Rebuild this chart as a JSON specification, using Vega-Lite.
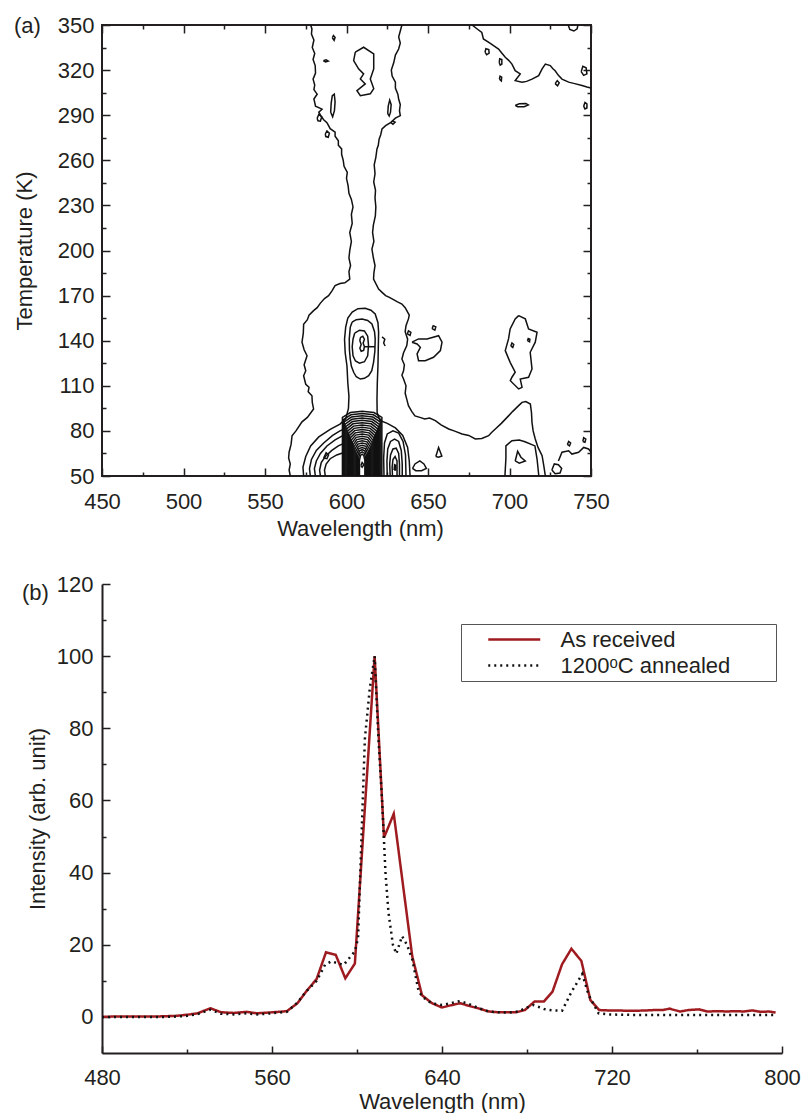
{
"$schema":"https://vega.github.io/schema/vega-lite/v6.json",
"background":"white",
"padding":{"left":12,"top":13,"right":5,"bottom":0},
"spacing":33,
"config":{
 "font":"Liberation Sans",
 "view":{"stroke":null},
 "axis":{"labelFont":"Liberation Sans","titleFont":"Liberation Sans","labelFontSize":22,"titleFontSize":22,"titleFontWeight":"normal","labelColor":"#231f20","titleColor":"#231f20","domainColor":"#231f20","tickColor":"#231f20","grid":false,"labelFlush":false},
 "title":{"font":"Liberation Sans","fontSize":22,"fontWeight":"normal","color":"#231f20"}
},
"resolve":{"scale":{"color":"independent","strokeDash":"independent"},"legend":{"color":"independent","strokeDash":"independent"}},
"datasets":{
 "ca":[{"wl":450,"T":50}],
 "cb":[{"wl":480,"I":0}],
 "contours":[
{"c":"C1L","wl":565.5,"T":50},{"c":"C1L","wl":564.8,"T":54},{"c":"C1L","wl":565.5,"T":58},{"c":"C1L","wl":564.5,"T":62},{"c":"C1L","wl":564.8,"T":66},{"c":"C1L","wl":566,"T":71},{"c":"C1L","wl":566.6,"T":76.8},{"c":"C1L","wl":569,"T":80},{"c":"C1L","wl":572.7,"T":86},{"c":"C1L","wl":576,"T":89},{"c":"C1L","wl":579.8,"T":94.6},{"c":"C1L","wl":579,"T":99},{"c":"C1L","wl":578.8,"T":103.4},{"c":"C1L","wl":576.5,"T":106},{"c":"C1L","wl":577,"T":109},{"c":"C1L","wl":575,"T":111},{"c":"C1L","wl":573.7,"T":116.7},{"c":"C1L","wl":575,"T":120},{"c":"C1L","wl":574,"T":124},{"c":"C1L","wl":575.8,"T":130},{"c":"C1L","wl":574,"T":134},{"c":"C1L","wl":572.7,"T":139},{"c":"C1L","wl":573.5,"T":145},{"c":"C1L","wl":573.7,"T":151},{"c":"C1L","wl":576,"T":154},{"c":"C1L","wl":577,"T":157},{"c":"C1L","wl":579.8,"T":160},{"c":"C1L","wl":582,"T":162},{"c":"C1L","wl":584,"T":165},{"c":"C1L","wl":586.5,"T":168},{"c":"C1L","wl":589,"T":170},{"c":"C1L","wl":591,"T":173},{"c":"C1L","wl":593,"T":176.6},{"c":"C1L","wl":596,"T":178},{"c":"C1L","wl":599,"T":178.5},{"c":"C1L","wl":602,"T":181},{"c":"C1L","wl":601.5,"T":186},{"c":"C1L","wl":602.5,"T":190},{"c":"C1L","wl":601.5,"T":195},{"c":"C1L","wl":602,"T":200},{"c":"C1L","wl":603,"T":206},{"c":"C1L","wl":602,"T":212},{"c":"C1L","wl":603.5,"T":218},{"c":"C1L","wl":603,"T":224},{"c":"C1L","wl":604,"T":229},{"c":"C1L","wl":603,"T":234},{"c":"C1L","wl":601.5,"T":238},{"c":"C1L","wl":601,"T":243},{"c":"C1L","wl":600,"T":248},{"c":"C1L","wl":600.5,"T":252},{"c":"C1L","wl":598.5,"T":256},{"c":"C1L","wl":598,"T":260},{"c":"C1L","wl":597,"T":264},{"c":"C1L","wl":597,"T":267.6},{"c":"C1L","wl":595,"T":270},{"c":"C1L","wl":595,"T":273},{"c":"C1L","wl":593,"T":276},{"c":"C1L","wl":593,"T":278.8},{"c":"C1L","wl":590,"T":281},{"c":"C1L","wl":588,"T":285},{"c":"C1L","wl":586,"T":287},{"c":"C1L","wl":584,"T":290},{"c":"C1L","wl":583,"T":292},{"c":"C1L","wl":585,"T":294},{"c":"C1L","wl":581,"T":296},{"c":"C1L","wl":580,"T":300.8},{"c":"C1L","wl":582,"T":304},{"c":"C1L","wl":580,"T":307},{"c":"C1L","wl":580.5,"T":310},{"c":"C1L","wl":579.5,"T":314},{"c":"C1L","wl":581,"T":318},{"c":"C1L","wl":580.8,"T":323},{"c":"C1L","wl":579.5,"T":327},{"c":"C1L","wl":580.5,"T":331},{"c":"C1L","wl":579,"T":335},{"c":"C1L","wl":580,"T":340},{"c":"C1L","wl":578.5,"T":344},{"c":"C1L","wl":578.8,"T":347.4},{"c":"C1L","wl":578,"T":350},
{"c":"C1R","wl":634,"T":350},{"c":"C1R","wl":633,"T":346},{"c":"C1R","wl":632,"T":342},{"c":"C1R","wl":633,"T":338},{"c":"C1R","wl":632,"T":334},{"c":"C1R","wl":630,"T":330},{"c":"C1R","wl":629,"T":325},{"c":"C1R","wl":627.5,"T":320},{"c":"C1R","wl":628,"T":316},{"c":"C1R","wl":630,"T":312},{"c":"C1R","wl":630,"T":308},{"c":"C1R","wl":631.5,"T":304},{"c":"C1R","wl":632,"T":300.8},{"c":"C1R","wl":633,"T":297},{"c":"C1R","wl":632.5,"T":293},{"c":"C1R","wl":633,"T":289.7},{"c":"C1R","wl":630,"T":288},{"c":"C1R","wl":627,"T":285},{"c":"C1R","wl":624,"T":283},{"c":"C1R","wl":621.8,"T":280.9},{"c":"C1R","wl":621,"T":277},{"c":"C1R","wl":620,"T":274},{"c":"C1R","wl":619.5,"T":270},{"c":"C1R","wl":618.7,"T":267.6},{"c":"C1R","wl":618,"T":262},{"c":"C1R","wl":617,"T":257},{"c":"C1R","wl":617.5,"T":251},{"c":"C1R","wl":616.7,"T":245.6},{"c":"C1R","wl":617.8,"T":240},{"c":"C1R","wl":617.5,"T":235},{"c":"C1R","wl":618,"T":229},{"c":"C1R","wl":617.7,"T":223},{"c":"C1R","wl":616.5,"T":217},{"c":"C1R","wl":616,"T":212},{"c":"C1R","wl":616.8,"T":206},{"c":"C1R","wl":615.6,"T":201},{"c":"C1R","wl":616.5,"T":195},{"c":"C1R","wl":617.5,"T":190},{"c":"C1R","wl":616.8,"T":185},{"c":"C1R","wl":616.6,"T":181},{"c":"C1R","wl":619.7,"T":174.4},{"c":"C1R","wl":622,"T":172},{"c":"C1R","wl":624,"T":170},{"c":"C1R","wl":626,"T":169},{"c":"C1R","wl":628,"T":167.8},{"c":"C1R","wl":631,"T":166},{"c":"C1R","wl":634,"T":164.4},{"c":"C1R","wl":636,"T":162},{"c":"C1R","wl":637,"T":160},{"c":"C1R","wl":638.5,"T":157},{"c":"C1R","wl":638,"T":154.5},{"c":"C1R","wl":636.5,"T":150},{"c":"C1R","wl":636,"T":146},{"c":"C1R","wl":637.5,"T":141},{"c":"C1R","wl":637,"T":136.7},{"c":"C1R","wl":635,"T":132},{"c":"C1R","wl":634,"T":127.8},{"c":"C1R","wl":635.5,"T":124},{"c":"C1R","wl":635,"T":120},{"c":"C1R","wl":634,"T":117},{"c":"C1R","wl":635,"T":114.5},{"c":"C1R","wl":636.5,"T":110},{"c":"C1R","wl":636,"T":105},{"c":"C1R","wl":637,"T":101},{"c":"C1R","wl":638,"T":96.8},{"c":"C1R","wl":640,"T":93},{"c":"C1R","wl":642,"T":90},{"c":"C1R","wl":645,"T":89},{"c":"C1R","wl":648,"T":88},{"c":"C1R","wl":651,"T":88.5},{"c":"C1R","wl":654.5,"T":86.8},{"c":"C1R","wl":658,"T":84},{"c":"C1R","wl":662.7,"T":81.3},{"c":"C1R","wl":666,"T":80},{"c":"C1R","wl":670.9,"T":78},{"c":"C1R","wl":675,"T":77},{"c":"C1R","wl":679,"T":74.6},{"c":"C1R","wl":683,"T":75},{"c":"C1R","wl":687.2,"T":76.8},{"c":"C1R","wl":689,"T":79},{"c":"C1R","wl":691.3,"T":81.3},{"c":"C1R","wl":695,"T":85},{"c":"C1R","wl":699.4,"T":90},{"c":"C1R","wl":702,"T":93},{"c":"C1R","wl":705.6,"T":96.8},{"c":"C1R","wl":707.7,"T":99},{"c":"C1R","wl":710,"T":99.5},{"c":"C1R","wl":712.8,"T":97.9},{"c":"C1R","wl":713.5,"T":92},{"c":"C1R","wl":713.8,"T":85.7},{"c":"C1R","wl":714.5,"T":80},{"c":"C1R","wl":715.8,"T":74.6},{"c":"C1R","wl":717.5,"T":69},{"c":"C1R","wl":720,"T":63.5},{"c":"C1R","wl":721,"T":57},{"c":"C1R","wl":722,"T":50},
{"c":"CTR","wl":677,"T":350},{"c":"CTR","wl":680,"T":347.5},{"c":"CTR","wl":683,"T":345},{"c":"CTR","wl":684,"T":340.7},{"c":"CTR","wl":688,"T":338},{"c":"CTR","wl":693.3,"T":334},{"c":"CTR","wl":695.5,"T":331},{"c":"CTR","wl":697.4,"T":328.5},{"c":"CTR","wl":699.5,"T":326.5},{"c":"CTR","wl":701.5,"T":324},{"c":"CTR","wl":703.5,"T":319.6},{"c":"CTR","wl":706.6,"T":317.5},{"c":"CTR","wl":703.5,"T":313},{"c":"CTR","wl":707.7,"T":312},{"c":"CTR","wl":710.5,"T":312.5},{"c":"CTR","wl":713.8,"T":314},{"c":"CTR","wl":717.9,"T":316.3},{"c":"CTR","wl":720,"T":320.8},{"c":"CTR","wl":722,"T":324},{"c":"CTR","wl":725,"T":323},{"c":"CTR","wl":726.5,"T":321},{"c":"CTR","wl":728,"T":319.6},{"c":"CTR","wl":730,"T":316.5},{"c":"CTR","wl":732.2,"T":314},{"c":"CTR","wl":736.3,"T":312},{"c":"CTR","wl":740,"T":311},{"c":"CTR","wl":744.5,"T":309.7},{"c":"CTR","wl":747.5,"T":308.7},{"c":"CTR","wl":750,"T":308},
{"c":"CTR2","wl":736,"T":350},{"c":"CTR2","wl":737,"T":347},{"c":"CTR2","wl":739.5,"T":346},{"c":"CTR2","wl":741.5,"T":347.5},{"c":"CTR2","wl":742,"T":350},
{"c":"I1","wl":605.4,"T":331.9},{"c":"I1","wl":610.5,"T":335.2},{"c":"I1","wl":616.7,"T":330.8},{"c":"I1","wl":616.7,"T":320.8},{"c":"I1","wl":614.6,"T":314.1},{"c":"I1","wl":616.7,"T":307.7},{"c":"I1","wl":614.6,"T":304.2},{"c":"I1","wl":608.5,"T":303},{"c":"I1","wl":606.4,"T":306.4},{"c":"I1","wl":611.5,"T":310.8},{"c":"I1","wl":608.5,"T":314.1},{"c":"I1","wl":610.5,"T":317.5},{"c":"I1","wl":607.4,"T":320.8},{"c":"I1","wl":604.4,"T":326.3},{"c":"I1","wl":605.4,"T":331.9},
{"c":"I2","wl":640.2,"T":139},{"c":"I2","wl":644.2,"T":141.2},{"c":"I2","wl":649.4,"T":141.2},{"c":"I2","wl":656.5,"T":143.3},{"c":"I2","wl":658.6,"T":139},{"c":"I2","wl":657.6,"T":133.4},{"c":"I2","wl":653.4,"T":129},{"c":"I2","wl":648.3,"T":126.7},{"c":"I2","wl":644.2,"T":126.7},{"c":"I2","wl":643.3,"T":131.2},{"c":"I2","wl":645.3,"T":135.6},{"c":"I2","wl":643.3,"T":137.8},{"c":"I2","wl":640.2,"T":139},
{"c":"I3","wl":705.6,"T":156.7},{"c":"I3","wl":709.7,"T":154.5},{"c":"I3","wl":711.7,"T":147.8},{"c":"I3","wl":716.9,"T":145.6},{"c":"I3","wl":715.8,"T":139},{"c":"I3","wl":712.7,"T":132.3},{"c":"I3","wl":713.8,"T":121.2},{"c":"I3","wl":711.7,"T":115.7},{"c":"I3","wl":706.6,"T":114.5},{"c":"I3","wl":707.7,"T":109},{"c":"I3","wl":705.6,"T":107.9},{"c":"I3","wl":700.5,"T":113.4},{"c":"I3","wl":701.5,"T":115.7},{"c":"I3","wl":703.5,"T":119},{"c":"I3","wl":700.4,"T":125.6},{"c":"I3","wl":697.4,"T":133.4},{"c":"I3","wl":699.4,"T":141.2},{"c":"I3","wl":700.4,"T":147.8},{"c":"I3","wl":703.5,"T":154.5},{"c":"I3","wl":705.6,"T":156.7},
{"c":"I3a","wl":711,"T":140},{"c":"I3a","wl":711.5,"T":141.5},{"c":"I3a","wl":712.5,"T":141},{"c":"I3a","wl":712.3,"T":139.3},{"c":"I3a","wl":711,"T":140},
{"c":"I3b","wl":700.8,"T":136.5},{"c":"I3b","wl":701.5,"T":138.5},{"c":"I3b","wl":702.6,"T":137.5},{"c":"I3b","wl":702,"T":135.5},{"c":"I3b","wl":700.8,"T":136.5},
{"c":"P7a","wl":697.2,"T":50},{"c":"P7a","wl":697.8,"T":62},{"c":"P7a","wl":697.8,"T":70},{"c":"P7a","wl":701.5,"T":73.5},{"c":"P7a","wl":706,"T":74},{"c":"P7a","wl":709.5,"T":72.8},{"c":"P7a","wl":715.6,"T":70},{"c":"P7a","wl":716.9,"T":61.3},{"c":"P7a","wl":718,"T":50},
{"c":"P7b","wl":703.5,"T":60},{"c":"P7b","wl":705,"T":66.5},{"c":"P7b","wl":707,"T":62.5},{"c":"P7b","wl":709.7,"T":60},{"c":"P7b","wl":706,"T":58.5},{"c":"P7b","wl":703.5,"T":60},
{"c":"L2","wl":573.7,"T":50},{"c":"L2","wl":573.3,"T":56},{"c":"L2","wl":575,"T":63},{"c":"L2","wl":578,"T":70},{"c":"L2","wl":583,"T":76},{"c":"L2","wl":590,"T":81},{"c":"L2","wl":596,"T":84.5},{"c":"L2","wl":599.5,"T":88},{"c":"L2","wl":601.2,"T":95},{"c":"L2","wl":601.5,"T":103},{"c":"L2","wl":600.8,"T":112},{"c":"L2","wl":600.3,"T":123},{"c":"L2","wl":599.2,"T":132},{"c":"L2","wl":598.8,"T":141},{"c":"L2","wl":599.5,"T":149},{"c":"L2","wl":600.8,"T":155},{"c":"L2","wl":603.5,"T":159},{"c":"L2","wl":607,"T":161.3},{"c":"L2","wl":611.5,"T":161.6},{"c":"L2","wl":615,"T":160.3},{"c":"L2","wl":617.6,"T":157.8},{"c":"L2","wl":619.3,"T":152},{"c":"L2","wl":619.7,"T":145.6},{"c":"L2","wl":619.5,"T":135},{"c":"L2","wl":619.3,"T":123.4},{"c":"L2","wl":618.9,"T":112},{"c":"L2","wl":618.7,"T":101},{"c":"L2","wl":618.8,"T":92},{"c":"L2","wl":620.5,"T":87},{"c":"L2","wl":625,"T":85},{"c":"L2","wl":630,"T":82},{"c":"L2","wl":634.5,"T":77},{"c":"L2","wl":637.5,"T":69},{"c":"L2","wl":638.5,"T":60},{"c":"L2","wl":639,"T":50},
{"c":"U2","wl":603.4,"T":152.3},{"c":"U2","wl":606,"T":154},{"c":"U2","wl":609.5,"T":154.5},{"c":"U2","wl":613,"T":153.5},{"c":"U2","wl":615.6,"T":151.1},{"c":"U2","wl":617.2,"T":146},{"c":"U2","wl":617.6,"T":141.2},{"c":"U2","wl":617.4,"T":133},{"c":"U2","wl":616.6,"T":125.6},{"c":"U2","wl":615.5,"T":120},{"c":"U2","wl":613.6,"T":116.7},{"c":"U2","wl":611,"T":115},{"c":"U2","wl":608.5,"T":114.5},{"c":"U2","wl":606,"T":116},{"c":"U2","wl":604.4,"T":119},{"c":"U2","wl":603,"T":123},{"c":"U2","wl":602.3,"T":127.8},{"c":"U2","wl":601.8,"T":134},{"c":"U2","wl":601.7,"T":141.2},{"c":"U2","wl":602.3,"T":148.9},{"c":"U2","wl":603.4,"T":152.3},
{"c":"U3","wl":605,"T":145},{"c":"U3","wl":608,"T":147},{"c":"U3","wl":611,"T":146.5},{"c":"U3","wl":613,"T":143},{"c":"U3","wl":613.5,"T":137},{"c":"U3","wl":613,"T":130},{"c":"U3","wl":611,"T":126},{"c":"U3","wl":608,"T":125},{"c":"U3","wl":605.5,"T":126.5},{"c":"U3","wl":604,"T":130},{"c":"U3","wl":603.5,"T":136},{"c":"U3","wl":604,"T":141},{"c":"U3","wl":605,"T":145},
{"c":"U4","wl":608.5,"T":142},{"c":"U4","wl":610,"T":143},{"c":"U4","wl":611,"T":141},{"c":"U4","wl":610.2,"T":138.5},{"c":"U4","wl":611,"T":136},{"c":"U4","wl":610.5,"T":133.5},{"c":"U4","wl":609,"T":133},{"c":"U4","wl":608.2,"T":135},{"c":"U4","wl":609,"T":137.5},{"c":"U4","wl":608.2,"T":140},{"c":"U4","wl":608.5,"T":142},
{"c":"UD","wl":611.3,"T":136},{"c":"UD","wl":617.5,"T":136},
{"c":"UT","wl":621.8,"T":142.5},{"c":"UT","wl":623.5,"T":141},{"c":"UT","wl":622.8,"T":138.5},{"c":"UT","wl":623.7,"T":136.5},
{"c":"LL3","wl":577.8,"T":50},{"c":"LL3","wl":577.3,"T":55},{"c":"LL3","wl":578.5,"T":61},{"c":"LL3","wl":581.5,"T":67},{"c":"LL3","wl":586,"T":72},{"c":"LL3","wl":591.5,"T":77},{"c":"LL3","wl":596,"T":80},{"c":"LL3","wl":598,"T":81},
{"c":"LL4","wl":580.9,"T":50},{"c":"LL4","wl":580.3,"T":55},{"c":"LL4","wl":581.5,"T":60},{"c":"LL4","wl":584,"T":65},{"c":"LL4","wl":588,"T":70},{"c":"LL4","wl":593,"T":74},{"c":"LL4","wl":598,"T":77},
{"c":"LL5","wl":584,"T":50},{"c":"LL5","wl":583.5,"T":54},{"c":"LL5","wl":584.5,"T":59},{"c":"LL5","wl":587,"T":63},{"c":"LL5","wl":591,"T":67},{"c":"LL5","wl":595,"T":70},{"c":"LL5","wl":598,"T":71.5},
{"c":"LL6","wl":587,"T":50},{"c":"LL6","wl":586.5,"T":54},{"c":"LL6","wl":587.5,"T":58},{"c":"LL6","wl":590,"T":61.5},{"c":"LL6","wl":594,"T":64},{"c":"LL6","wl":598,"T":65.5},
{"c":"LL7","wl":586,"T":62},{"c":"LL7","wl":587.5,"T":65.5},{"c":"LL7","wl":589,"T":64},{"c":"LL7","wl":588,"T":61.5},{"c":"LL7","wl":586,"T":62},
{"c":"RL1","wl":623,"T":50},{"c":"RL1","wl":622.8,"T":62},{"c":"RL1","wl":623.3,"T":72},{"c":"RL1","wl":625,"T":78},{"c":"RL1","wl":628.5,"T":80},{"c":"RL1","wl":632,"T":78.5},{"c":"RL1","wl":634.7,"T":73},{"c":"RL1","wl":636.2,"T":64},{"c":"RL1","wl":636.5,"T":50},
{"c":"RL2","wl":625,"T":50},{"c":"RL2","wl":624.8,"T":60},{"c":"RL2","wl":625.3,"T":68},{"c":"RL2","wl":627,"T":73},{"c":"RL2","wl":629.5,"T":74.5},{"c":"RL2","wl":632,"T":73},{"c":"RL2","wl":633.6,"T":67},{"c":"RL2","wl":634.2,"T":58},{"c":"RL2","wl":634.2,"T":50},
{"c":"RL3","wl":626.8,"T":50},{"c":"RL3","wl":626.5,"T":58},{"c":"RL3","wl":627,"T":64},{"c":"RL3","wl":628.5,"T":68},{"c":"RL3","wl":630.5,"T":68.5},{"c":"RL3","wl":632,"T":65},{"c":"RL3","wl":632.5,"T":58},{"c":"RL3","wl":632.5,"T":50},
{"c":"RL4","wl":628.2,"T":50},{"c":"RL4","wl":628,"T":56},{"c":"RL4","wl":628.5,"T":61},{"c":"RL4","wl":629.8,"T":63},{"c":"RL4","wl":631,"T":60},{"c":"RL4","wl":631,"T":54},{"c":"RL4","wl":631,"T":50},
{"c":"RL5","wl":629.2,"T":54},{"c":"RL5","wl":629.5,"T":57.5},{"c":"RL5","wl":630.3,"T":57},{"c":"RL5","wl":630.2,"T":54},{"c":"RL5","wl":629.2,"T":54},
{"c":"B0","wl":597.5,"T":50},{"c":"B0","wl":597.5,"T":89},{"c":"B0","wl":602.34,"T":92.2},{"c":"B0","wl":609.6,"T":93},{"c":"B0","wl":616.86,"T":92.2},{"c":"B0","wl":621.7,"T":89},{"c":"B0","wl":621.7,"T":50},
{"c":"B1","wl":598.05,"T":50},{"c":"B1","wl":598.05,"T":87.5},{"c":"B1","wl":602.67,"T":90.7},{"c":"B1","wl":609.6,"T":91.5},{"c":"B1","wl":616.53,"T":90.7},{"c":"B1","wl":621.15,"T":87.5},{"c":"B1","wl":621.15,"T":50},
{"c":"B2","wl":598.6,"T":50},{"c":"B2","wl":598.6,"T":86},{"c":"B2","wl":603,"T":89.2},{"c":"B2","wl":609.6,"T":90},{"c":"B2","wl":616.2,"T":89.2},{"c":"B2","wl":620.6,"T":86},{"c":"B2","wl":620.6,"T":50},
{"c":"B3","wl":599.15,"T":50},{"c":"B3","wl":599.15,"T":84.5},{"c":"B3","wl":603.33,"T":87.7},{"c":"B3","wl":609.6,"T":88.5},{"c":"B3","wl":615.87,"T":87.7},{"c":"B3","wl":620.05,"T":84.5},{"c":"B3","wl":620.05,"T":50},
{"c":"B4","wl":599.7,"T":50},{"c":"B4","wl":599.7,"T":83},{"c":"B4","wl":603.66,"T":86.2},{"c":"B4","wl":609.6,"T":87},{"c":"B4","wl":615.54,"T":86.2},{"c":"B4","wl":619.5,"T":83},{"c":"B4","wl":619.5,"T":50},
{"c":"B5","wl":600.25,"T":50},{"c":"B5","wl":600.25,"T":81.5},{"c":"B5","wl":603.99,"T":84.7},{"c":"B5","wl":609.6,"T":85.5},{"c":"B5","wl":615.21,"T":84.7},{"c":"B5","wl":618.95,"T":81.5},{"c":"B5","wl":618.95,"T":50},
{"c":"B6","wl":600.8,"T":50},{"c":"B6","wl":600.8,"T":80},{"c":"B6","wl":604.32,"T":83.2},{"c":"B6","wl":609.6,"T":84},{"c":"B6","wl":614.88,"T":83.2},{"c":"B6","wl":618.4,"T":80},{"c":"B6","wl":618.4,"T":50},
{"c":"B7","wl":601.35,"T":50},{"c":"B7","wl":601.35,"T":78.5},{"c":"B7","wl":604.65,"T":81.7},{"c":"B7","wl":609.6,"T":82.5},{"c":"B7","wl":614.55,"T":81.7},{"c":"B7","wl":617.85,"T":78.5},{"c":"B7","wl":617.85,"T":50},
{"c":"B8","wl":601.9,"T":50},{"c":"B8","wl":601.9,"T":77},{"c":"B8","wl":604.98,"T":80.2},{"c":"B8","wl":609.6,"T":81},{"c":"B8","wl":614.22,"T":80.2},{"c":"B8","wl":617.3,"T":77},{"c":"B8","wl":617.3,"T":50},
{"c":"B9","wl":602.45,"T":50},{"c":"B9","wl":602.45,"T":75.5},{"c":"B9","wl":605.31,"T":78.7},{"c":"B9","wl":609.6,"T":79.5},{"c":"B9","wl":613.89,"T":78.7},{"c":"B9","wl":616.75,"T":75.5},{"c":"B9","wl":616.75,"T":50},
{"c":"B10","wl":603,"T":50},{"c":"B10","wl":603,"T":74},{"c":"B10","wl":605.64,"T":77.2},{"c":"B10","wl":609.6,"T":78},{"c":"B10","wl":613.56,"T":77.2},{"c":"B10","wl":616.2,"T":74},{"c":"B10","wl":616.2,"T":50},
{"c":"B11","wl":603.55,"T":50},{"c":"B11","wl":603.55,"T":72.5},{"c":"B11","wl":605.97,"T":75.7},{"c":"B11","wl":609.6,"T":76.5},{"c":"B11","wl":613.23,"T":75.7},{"c":"B11","wl":615.65,"T":72.5},{"c":"B11","wl":615.65,"T":50},
{"c":"B12","wl":604.1,"T":50},{"c":"B12","wl":604.1,"T":71},{"c":"B12","wl":606.3,"T":74.2},{"c":"B12","wl":609.6,"T":75},{"c":"B12","wl":612.9,"T":74.2},{"c":"B12","wl":615.1,"T":71},{"c":"B12","wl":615.1,"T":50},
{"c":"B13","wl":604.65,"T":50},{"c":"B13","wl":604.65,"T":69.5},{"c":"B13","wl":606.63,"T":72.7},{"c":"B13","wl":609.6,"T":73.5},{"c":"B13","wl":612.57,"T":72.7},{"c":"B13","wl":614.55,"T":69.5},{"c":"B13","wl":614.55,"T":50},
{"c":"B14","wl":605.2,"T":50},{"c":"B14","wl":605.2,"T":68},{"c":"B14","wl":606.96,"T":71.2},{"c":"B14","wl":609.6,"T":72},{"c":"B14","wl":612.24,"T":71.2},{"c":"B14","wl":614,"T":68},{"c":"B14","wl":614,"T":50},
{"c":"B15","wl":605.75,"T":50},{"c":"B15","wl":605.75,"T":66.5},{"c":"B15","wl":607.29,"T":69.7},{"c":"B15","wl":609.6,"T":70.5},{"c":"B15","wl":611.91,"T":69.7},{"c":"B15","wl":613.45,"T":66.5},{"c":"B15","wl":613.45,"T":50},
{"c":"B16","wl":606.3,"T":50},{"c":"B16","wl":606.3,"T":65},{"c":"B16","wl":607.62,"T":68.2},{"c":"B16","wl":609.6,"T":69},{"c":"B16","wl":611.58,"T":68.2},{"c":"B16","wl":612.9,"T":65},{"c":"B16","wl":612.9,"T":50},
{"c":"B17","wl":606.85,"T":50},{"c":"B17","wl":606.85,"T":63.5},{"c":"B17","wl":607.95,"T":66.7},{"c":"B17","wl":609.6,"T":67.5},{"c":"B17","wl":611.25,"T":66.7},{"c":"B17","wl":612.35,"T":63.5},{"c":"B17","wl":612.35,"T":50},
{"c":"B18","wl":607.4,"T":50},{"c":"B18","wl":607.4,"T":62},{"c":"B18","wl":608.28,"T":65.2},{"c":"B18","wl":609.6,"T":66},{"c":"B18","wl":610.92,"T":65.2},{"c":"B18","wl":611.8,"T":62},{"c":"B18","wl":611.8,"T":50},
{"c":"B19","wl":607.95,"T":50},{"c":"B19","wl":607.95,"T":60.5},{"c":"B19","wl":608.61,"T":63.7},{"c":"B19","wl":609.6,"T":64.5},{"c":"B19","wl":610.59,"T":63.7},{"c":"B19","wl":611.25,"T":60.5},{"c":"B19","wl":611.25,"T":50},
{"c":"BE","wl":608.8,"T":57},{"c":"BE","wl":609.6,"T":59},{"c":"BE","wl":610.6,"T":57.5},{"c":"BE","wl":609.6,"T":55.8},{"c":"BE","wl":608.8,"T":57},
{"c":"BR1","wl":726,"T":54},{"c":"BR1","wl":727.5,"T":58},{"c":"BR1","wl":730,"T":57.5},{"c":"BR1","wl":732,"T":55},{"c":"BR1","wl":731,"T":52},{"c":"BR1","wl":728,"T":51.5},{"c":"BR1","wl":726,"T":54},
{"c":"BR2","wl":730,"T":60},{"c":"BR2","wl":732.2,"T":65.8},{"c":"BR2","wl":736.3,"T":66.8},{"c":"BR2","wl":738.3,"T":64.6},{"c":"BR2","wl":742.4,"T":65.8},{"c":"BR2","wl":745.5,"T":69},{"c":"BR2","wl":748.5,"T":68},{"c":"BR2","wl":750,"T":66},
{"c":"BR3","wl":735.5,"T":71},{"c":"BR3","wl":736.3,"T":73},{"c":"BR3","wl":737.5,"T":72},{"c":"BR3","wl":736.8,"T":70},{"c":"BR3","wl":735.5,"T":71},
{"c":"BR4","wl":745,"T":73},{"c":"BR4","wl":745.5,"T":75.5},{"c":"BR4","wl":746.8,"T":74.5},{"c":"BR4","wl":746.3,"T":72.5},{"c":"BR4","wl":745,"T":73},
{"c":"S645","wl":640.5,"T":55},{"c":"S645","wl":642,"T":58},{"c":"S645","wl":645,"T":60},{"c":"S645","wl":647.5,"T":58},{"c":"S645","wl":649,"T":55},{"c":"S645","wl":646,"T":53.5},{"c":"S645","wl":642.5,"T":53.5},{"c":"S645","wl":640.5,"T":55},
{"c":"T655","wl":654.8,"T":63},{"c":"T655","wl":656.5,"T":69},{"c":"T655","wl":658.5,"T":63.3},{"c":"T655","wl":656.5,"T":62.5},{"c":"T655","wl":654.8,"T":63},
{"c":"o1","wl":591.3,"T":341.5},{"c":"o1","wl":592,"T":343},{"c":"o1","wl":593,"T":341.8},{"c":"o1","wl":592.4,"T":339.8},{"c":"o1","wl":591.3,"T":341.5},
{"c":"o2","wl":585.8,"T":326.2},{"c":"o2","wl":587.5,"T":326.8},{"c":"o2","wl":588.8,"T":326},{"c":"o2","wl":587.2,"T":325.4},{"c":"o2","wl":585.8,"T":326.2},
{"c":"o3","wl":587,"T":277.5},{"c":"o3","wl":588,"T":279.5},{"c":"o3","wl":589.5,"T":278},{"c":"o3","wl":588.8,"T":275.3},{"c":"o3","wl":587.3,"T":275.8},{"c":"o3","wl":587,"T":277.5},
{"c":"o4","wl":582,"T":288},{"c":"o4","wl":583,"T":290.5},{"c":"o4","wl":584.8,"T":289},{"c":"o4","wl":584,"T":286},{"c":"o4","wl":582.5,"T":286.3},{"c":"o4","wl":582,"T":288},
{"c":"o5","wl":590.3,"T":292},{"c":"o5","wl":590.6,"T":298},{"c":"o5","wl":591.3,"T":303},{"c":"o5","wl":592.5,"T":304},{"c":"o5","wl":593,"T":299},{"c":"o5","wl":592.6,"T":293},{"c":"o5","wl":591.5,"T":289},{"c":"o5","wl":590.3,"T":292},
{"c":"o6","wl":625.3,"T":291},{"c":"o6","wl":625.6,"T":296},{"c":"o6","wl":626.5,"T":300},{"c":"o6","wl":627.4,"T":297},{"c":"o6","wl":627,"T":292},{"c":"o6","wl":626.2,"T":289.5},{"c":"o6","wl":625.3,"T":291},
{"c":"o7","wl":627.2,"T":285},{"c":"o7","wl":628.3,"T":286.2},{"c":"o7","wl":629.8,"T":285.3},{"c":"o7","wl":628.5,"T":284},{"c":"o7","wl":627.2,"T":285},
{"c":"o8","wl":685,"T":332},{"c":"o8","wl":685.5,"T":334.2},{"c":"o8","wl":687.3,"T":333.6},{"c":"o8","wl":687.5,"T":331.3},{"c":"o8","wl":686,"T":330.2},{"c":"o8","wl":685,"T":332},
{"c":"o9","wl":693.7,"T":325},{"c":"o9","wl":694,"T":327.5},{"c":"o9","wl":695.3,"T":327},{"c":"o9","wl":695.3,"T":324},{"c":"o9","wl":694.3,"T":323.3},{"c":"o9","wl":693.7,"T":325},
{"c":"o10","wl":693.8,"T":314},{"c":"o10","wl":694.2,"T":316},{"c":"o10","wl":695.2,"T":315.3},{"c":"o10","wl":695,"T":312.8},{"c":"o10","wl":693.8,"T":314},
{"c":"o11","wl":703.5,"T":296.5},{"c":"o11","wl":706,"T":297.6},{"c":"o11","wl":710,"T":297.8},{"c":"o11","wl":711.5,"T":296.8},{"c":"o11","wl":709,"T":295.7},{"c":"o11","wl":705,"T":295.6},{"c":"o11","wl":703.5,"T":296.5},
{"c":"o12","wl":728,"T":311},{"c":"o12","wl":729.3,"T":313},{"c":"o12","wl":730.5,"T":311.5},{"c":"o12","wl":729.5,"T":309.5},{"c":"o12","wl":728,"T":311},
{"c":"o13","wl":744,"T":319},{"c":"o13","wl":745,"T":322.5},{"c":"o13","wl":747,"T":321.5},{"c":"o13","wl":747.5,"T":317.5},{"c":"o13","wl":745.5,"T":316.5},{"c":"o13","wl":744,"T":319},
{"c":"o14","wl":745.5,"T":296},{"c":"o14","wl":746.3,"T":298.5},{"c":"o14","wl":747.5,"T":297.5},{"c":"o14","wl":747.5,"T":294.8},{"c":"o14","wl":746.3,"T":294.2},{"c":"o14","wl":745.5,"T":296},
{"c":"o16","wl":637.3,"T":144.5},{"c":"o16","wl":638,"T":146.5},{"c":"o16","wl":639.5,"T":145.5},{"c":"o16","wl":639,"T":143.5},{"c":"o16","wl":637.3,"T":144.5},
{"c":"o17","wl":652.5,"T":148},{"c":"o17","wl":653.2,"T":150},{"c":"o17","wl":654.8,"T":149.2},{"c":"o17","wl":654.2,"T":147},{"c":"o17","wl":652.5,"T":148}
 ],
 "spectra":[
{"s":"As received","wl":480,"I":0},{"s":"As received","wl":485,"I":0.1},{"s":"As received","wl":490,"I":0.1},{"s":"As received","wl":495,"I":0.1},{"s":"As received","wl":500,"I":0.1},{"s":"As received","wl":505,"I":0.1},{"s":"As received","wl":510,"I":0.2},{"s":"As received","wl":515,"I":0.3},{"s":"As received","wl":520,"I":0.6},{"s":"As received","wl":525,"I":1.0},{"s":"As received","wl":531,"I":2.4},{"s":"As received","wl":536,"I":1.3},{"s":"As received","wl":542,"I":1.1},{"s":"As received","wl":548,"I":1.4},{"s":"As received","wl":553,"I":1.0},{"s":"As received","wl":558,"I":1.2},{"s":"As received","wl":563,"I":1.4},{"s":"As received","wl":567,"I":1.6},{"s":"As received","wl":572,"I":3.8},{"s":"As received","wl":576,"I":7.0},{"s":"As received","wl":581,"I":10.5},{"s":"As received","wl":585.4,"I":17.9},{"s":"As received","wl":590,"I":17.2},{"s":"As received","wl":594.5,"I":10.7},{"s":"As received","wl":599,"I":14.8},{"s":"As received","wl":608.3,"I":100},{"s":"As received","wl":612.7,"I":49.7},{"s":"As received","wl":617.3,"I":56.3},{"s":"As received","wl":626,"I":16.8},{"s":"As received","wl":630.6,"I":6.0},{"s":"As received","wl":635.3,"I":3.8},{"s":"As received","wl":640,"I":2.6},{"s":"As received","wl":644,"I":3.2},{"s":"As received","wl":648.5,"I":3.8},{"s":"As received","wl":653,"I":3.0},{"s":"As received","wl":657,"I":2.4},{"s":"As received","wl":662,"I":1.5},{"s":"As received","wl":666,"I":1.3},{"s":"As received","wl":671,"I":1.3},{"s":"As received","wl":675,"I":1.3},{"s":"As received","wl":679,"I":1.9},{"s":"As received","wl":683.6,"I":4.3},{"s":"As received","wl":688,"I":4.3},{"s":"As received","wl":692,"I":7.0},{"s":"As received","wl":696.5,"I":14.6},{"s":"As received","wl":700.9,"I":18.9},{"s":"As received","wl":705.6,"I":15.5},{"s":"As received","wl":709.8,"I":4.7},{"s":"As received","wl":714,"I":1.9},{"s":"As received","wl":718,"I":1.8},{"s":"As received","wl":723,"I":1.8},{"s":"As received","wl":727,"I":1.7},{"s":"As received","wl":731,"I":1.7},{"s":"As received","wl":736,"I":1.8},{"s":"As received","wl":740,"I":1.9},{"s":"As received","wl":744,"I":1.9},{"s":"As received","wl":747,"I":2.3},{"s":"As received","wl":752,"I":1.5},{"s":"As received","wl":756,"I":1.9},{"s":"As received","wl":761,"I":2.1},{"s":"As received","wl":765,"I":1.5},{"s":"As received","wl":770,"I":1.6},{"s":"As received","wl":774,"I":1.5},{"s":"As received","wl":778,"I":1.6},{"s":"As received","wl":782,"I":1.5},{"s":"As received","wl":786,"I":1.8},{"s":"As received","wl":790,"I":1.4},{"s":"As received","wl":794,"I":1.5},{"s":"As received","wl":797,"I":1.2},
{"s":"1200ᵒC annealed","wl":480,"I":0},{"s":"1200ᵒC annealed","wl":490,"I":0},{"s":"1200ᵒC annealed","wl":500,"I":0},{"s":"1200ᵒC annealed","wl":510,"I":0},{"s":"1200ᵒC annealed","wl":515,"I":0.1},{"s":"1200ᵒC annealed","wl":520,"I":0.3},{"s":"1200ᵒC annealed","wl":525,"I":0.8},{"s":"1200ᵒC annealed","wl":531,"I":2.0},{"s":"1200ᵒC annealed","wl":536,"I":0.9},{"s":"1200ᵒC annealed","wl":542,"I":0.7},{"s":"1200ᵒC annealed","wl":548,"I":1.0},{"s":"1200ᵒC annealed","wl":553,"I":0.7},{"s":"1200ᵒC annealed","wl":558,"I":0.9},{"s":"1200ᵒC annealed","wl":563,"I":1.2},{"s":"1200ᵒC annealed","wl":567,"I":1.4},{"s":"1200ᵒC annealed","wl":572,"I":4.0},{"s":"1200ᵒC annealed","wl":576,"I":7.0},{"s":"1200ᵒC annealed","wl":581,"I":10.0},{"s":"1200ᵒC annealed","wl":585,"I":14.5},{"s":"1200ᵒC annealed","wl":588,"I":15.4},{"s":"1200ᵒC annealed","wl":593.7,"I":14.4},{"s":"1200ᵒC annealed","wl":599,"I":18.2},{"s":"1200ᵒC annealed","wl":600.5,"I":21.8},{"s":"1200ᵒC annealed","wl":603.7,"I":77},{"s":"1200ᵒC annealed","wl":606,"I":91},{"s":"1200ᵒC annealed","wl":608.3,"I":100},{"s":"1200ᵒC annealed","wl":610.1,"I":77},{"s":"1200ᵒC annealed","wl":611.8,"I":60},{"s":"1200ᵒC annealed","wl":613.4,"I":40},{"s":"1200ᵒC annealed","wl":614.8,"I":29},{"s":"1200ᵒC annealed","wl":616.9,"I":20},{"s":"1200ᵒC annealed","wl":618.5,"I":17.5},{"s":"1200ᵒC annealed","wl":621.2,"I":22.4},{"s":"1200ᵒC annealed","wl":623.5,"I":20},{"s":"1200ᵒC annealed","wl":626,"I":16},{"s":"1200ᵒC annealed","wl":629,"I":7.1},{"s":"1200ᵒC annealed","wl":631,"I":5.5},{"s":"1200ᵒC annealed","wl":635,"I":3.8},{"s":"1200ᵒC annealed","wl":640,"I":3.3},{"s":"1200ᵒC annealed","wl":644,"I":3.8},{"s":"1200ᵒC annealed","wl":648.5,"I":4.4},{"s":"1200ᵒC annealed","wl":653,"I":3.5},{"s":"1200ᵒC annealed","wl":657,"I":2.5},{"s":"1200ᵒC annealed","wl":662,"I":1.5},{"s":"1200ᵒC annealed","wl":666,"I":1.3},{"s":"1200ᵒC annealed","wl":671,"I":1.2},{"s":"1200ᵒC annealed","wl":676,"I":1.5},{"s":"1200ᵒC annealed","wl":679.5,"I":2.5},{"s":"1200ᵒC annealed","wl":683,"I":3.3},{"s":"1200ᵒC annealed","wl":688,"I":2.2},{"s":"1200ᵒC annealed","wl":692,"I":1.8},{"s":"1200ᵒC annealed","wl":696.5,"I":1.7},{"s":"1200ᵒC annealed","wl":701,"I":7.0},{"s":"1200ᵒC annealed","wl":706,"I":11.9},{"s":"1200ᵒC annealed","wl":709,"I":6.1},{"s":"1200ᵒC annealed","wl":713.7,"I":1.0},{"s":"1200ᵒC annealed","wl":718,"I":0.7},{"s":"1200ᵒC annealed","wl":725,"I":0.6},{"s":"1200ᵒC annealed","wl":735,"I":0.5},{"s":"1200ᵒC annealed","wl":745,"I":0.5},{"s":"1200ᵒC annealed","wl":755,"I":0.5},{"s":"1200ᵒC annealed","wl":765,"I":0.5},{"s":"1200ᵒC annealed","wl":775,"I":0.5},{"s":"1200ᵒC annealed","wl":785,"I":0.5},{"s":"1200ᵒC annealed","wl":797,"I":0.5}
 ]
},
"vconcat":[
{
 "width":489,"height":451,
 "view":{"stroke":"#231f20","strokeWidth":2},
 "title":{"text":"(a)","anchor":"start","frame":"group","orient":"top","offset":0,"baseline":"middle","dx":-88,"dy":34},
 "layer":[
  {"data":{"name":"contours"},
   "mark":{"type":"line","color":"#111111","strokeWidth":1.5,"clip":true},
   "encoding":{
    "x":{"field":"wl","type":"quantitative","scale":{"domain":[450,750],"nice":false,"zero":false},
         "axis":{"orient":"bottom","values":[450,500,550,600,650,700,750],"ticks":false,"domain":false,"labelPadding":15,"title":"Wavelength (nm)","titlePadding":6,"titleX":258}},
    "y":{"field":"T","type":"quantitative","scale":{"domain":[50,350],"nice":false,"zero":false},
         "axis":{"orient":"left","values":[50,80,110,140,170,200,230,260,290,320,350],"ticks":false,"domain":false,"labelPadding":8,"title":"Temperature (K)","titlePadding":21}},
    "detail":{"field":"c","type":"nominal"},
    "order":{"value":null}
   }},
  {"data":{"name":"ca"},"mark":{"type":"point","opacity":0},
   "encoding":{
    "x":{"field":"wl","type":"quantitative","scale":{"domain":[450,750],"nice":false,"zero":false},
         "axis":{"orient":"bottom","values":[450,500,550,600,650,700,750],"labels":false,"domain":false,"tickSize":-8,"tickWidth":1.5,"title":null}},
    "y":{"field":"T","type":"quantitative","scale":{"domain":[50,350],"nice":false,"zero":false},
         "axis":{"orient":"left","values":[50,80,110,140,170,200,230,260,290,320,350],"labels":false,"domain":false,"tickSize":-8,"tickWidth":1.5,"title":null}}
   }},
  {"data":{"name":"ca"},"mark":{"type":"point","opacity":0},
   "encoding":{
    "x":{"field":"wl","type":"quantitative","scale":{"domain":[450,750],"nice":false,"zero":false},
         "axis":{"orient":"bottom","values":[475,525,575,625,675,725],"labels":false,"domain":false,"tickSize":-4,"tickWidth":1.5,"title":null}},
    "y":{"field":"T","type":"quantitative","scale":{"domain":[50,350],"nice":false,"zero":false},
         "axis":{"orient":"left","values":[65,95,125,155,185,215,245,275,305,335],"labels":false,"domain":false,"tickSize":-4,"tickWidth":1.5,"title":null}}
   }},
  {"data":{"name":"ca"},"mark":{"type":"point","opacity":0},
   "encoding":{
    "x":{"field":"wl","type":"quantitative","scale":{"domain":[450,750],"nice":false,"zero":false},
         "axis":{"orient":"top","values":[450,500,550,600,650,700,750],"labels":false,"domain":false,"tickSize":-8,"tickWidth":1.5,"title":null}},
    "y":{"field":"T","type":"quantitative","scale":{"domain":[50,350],"nice":false,"zero":false},
         "axis":{"orient":"right","values":[50,80,110,140,170,200,230,260,290,320,350],"labels":false,"domain":false,"tickSize":-8,"tickWidth":1.5,"title":null}}
   }},
  {"data":{"name":"ca"},"mark":{"type":"point","opacity":0},
   "encoding":{
    "x":{"field":"wl","type":"quantitative","scale":{"domain":[450,750],"nice":false,"zero":false},
         "axis":{"orient":"top","values":[475,525,575,625,675,725],"labels":false,"domain":false,"tickSize":-4,"tickWidth":1.5,"title":null}},
    "y":{"field":"T","type":"quantitative","scale":{"domain":[50,350],"nice":false,"zero":false},
         "axis":{"orient":"right","values":[65,95,125,155,185,215,245,275,305,335],"labels":false,"domain":false,"tickSize":-4,"tickWidth":1.5,"title":null}}
   }}
 ],
 "resolve":{"axis":{"x":"independent","y":"independent"}}
},
{
 "width":680,"height":469,
 "view":{"stroke":null},
 "title":{"text":"(b)","anchor":"start","frame":"group","orient":"top","offset":0,"baseline":"middle","dx":-80,"dy":42},
 "layer":[
  {"data":{"name":"spectra"},
   "mark":{"type":"line","strokeWidth":2.5,"strokeCap":"butt"},
   "encoding":{
    "x":{"field":"wl","type":"quantitative","scale":{"domain":[480,800],"nice":false,"zero":false},
         "axis":{"orient":"bottom","values":[480,560,640,720,800],"ticks":false,"domain":true,"domainWidth":2,"labelPadding":14,"title":"Wavelength (nm)","titlePadding":3.5}},
    "y":{"field":"I","type":"quantitative","scale":{"domain":[-10,120],"nice":false,"zero":false},
         "axis":{"orient":"left","values":[0,20,40,60,80,100,120],"ticks":false,"domain":true,"domainWidth":2,"labelPadding":9,"title":"Intensity (arb. unit)","titlePadding":7}},
    "color":{"field":"s","type":"nominal","scale":{"domain":["As received","1200ᵒC annealed"],"range":["#9e1b20","#111111"]},
         "legend":{"orient":"none","legendX":359,"legendY":40,"title":".","titleOrient":"right","titleOpacity":0,"titleFontSize":22,"titlePadding":34,"symbolType":"M-5.2,0H5.2","symbolSize":100,"symbolStrokeWidth":2.5,"symbolOffset":37.75,"labelOffset":35.25,"labelFontSize":22,"labelFont":"Liberation Sans","labelColor":"#231f20","labelLimit":400,"rowPadding":4,"padding":4.5,"strokeColor":"#555555"}},
    "strokeDash":{"field":"s","type":"nominal","scale":{"domain":["As received","1200ᵒC annealed"],"range":[[1,0],[2,4]]},
         "legend":{"orient":"none","legendX":359,"legendY":40,"title":".","titleOrient":"right","titleOpacity":0,"titleFontSize":22,"titlePadding":34,"symbolType":"M-5.2,0H5.2","symbolSize":100,"symbolStrokeWidth":2.5,"symbolOffset":37.75,"labelOffset":35.25,"labelFontSize":22,"labelFont":"Liberation Sans","labelColor":"#231f20","labelLimit":400,"rowPadding":4,"padding":4.5,"strokeColor":"#555555"}}
   }},
  {"data":{"name":"cb"},"mark":{"type":"point","opacity":0},
   "encoding":{
    "x":{"field":"wl","type":"quantitative","scale":{"domain":[480,800],"nice":false,"zero":false},
         "axis":{"orient":"bottom","values":[480,560,640,720,800],"labels":false,"domain":false,"tickSize":-7,"tickWidth":1.5,"title":null}},
    "y":{"field":"I","type":"quantitative","scale":{"domain":[-10,120],"nice":false,"zero":false},
         "axis":{"orient":"left","values":[0,20,40,60,80,100,120],"labels":false,"domain":false,"tickSize":-8,"tickWidth":1.5,"title":null}}
   }},
  {"data":{"name":"cb"},"mark":{"type":"point","opacity":0},
   "encoding":{
    "x":{"field":"wl","type":"quantitative","scale":{"domain":[480,800],"nice":false,"zero":false},
         "axis":{"orient":"bottom","values":[520,600,680,760],"labels":false,"domain":false,"tickSize":-4,"tickWidth":1.5,"title":null}},
    "y":{"field":"I","type":"quantitative","scale":{"domain":[-10,120],"nice":false,"zero":false},
         "axis":{"orient":"left","values":[10,30,50,70,90,110],"labels":false,"domain":false,"tickSize":-4,"tickWidth":1.5,"title":null}}
   }}
 ],
 "resolve":{"axis":{"x":"independent","y":"independent"}}
}
]
}
